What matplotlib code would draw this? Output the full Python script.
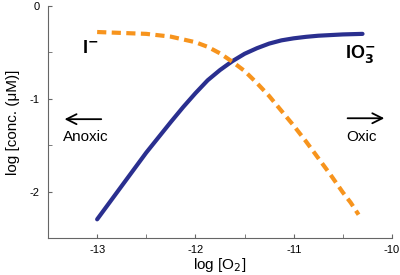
import matplotlib
matplotlib.use('Agg')
from matplotlib import pyplot as plt
from matplotlib.ticker import MultipleLocator

plt.rcParams['font.family'] = ['Liberation Sans', 'DejaVu Sans']

# log [O2] positions and values
iodate_x = [-13.0, -12.75, -12.5, -12.25, -12.125, -12.0, -11.875, -11.75, -11.625, -11.5,
            -11.375, -11.25, -11.125, -11.0, -10.875, -10.75, -10.5, -10.3]
iodate_y = [-2.30, -1.94, -1.58, -1.25, -1.09, -0.94, -0.80, -0.69, -0.595, -0.515,
            -0.455, -0.405, -0.37, -0.348, -0.332, -0.32, -0.306, -0.30]

iodide_x = [-13.0, -12.75, -12.5, -12.25, -12.125, -12.0, -11.875, -11.75, -11.625, -11.5,
            -11.375, -11.25, -11.125, -11.0, -10.875, -10.75, -10.625, -10.5, -10.42, -10.34]
iodide_y = [-0.28, -0.29, -0.30, -0.33, -0.36, -0.39, -0.44, -0.51, -0.60, -0.70,
            -0.83, -0.97, -1.13, -1.29, -1.46, -1.64, -1.82, -2.01, -2.12, -2.25]

x_ticks = [-13, -12, -11, -10]
y_ticks = [0, -1, -2]

fig = plt.figure(figsize=(4, 2.75), dpi=100)
ax = fig.add_axes([0.12, 0.135, 0.86, 0.843])

ax.plot(iodate_x, iodate_y, color='#2a2f8f', lw=3, solid_capstyle='round',
        solid_joinstyle='round')
ax.plot(iodide_x, iodide_y, color='#f7941d', lw=3, ls=(0, (2.2, 1.3)))

ax.set_xlim(-13.5, -10)
ax.set_ylim(-2.5, 0)
ax.set_xticks(x_ticks)
ax.set_yticks(y_ticks)
ax.set_xticklabels([str(t) for t in x_ticks])
ax.set_yticklabels([str(t) for t in y_ticks])
ax.xaxis.set_minor_locator(MultipleLocator(0.5))
ax.yaxis.set_minor_locator(MultipleLocator(0.5))
ax.tick_params(which='both', direction='in', color='#666666', labelsize=8, length=3)
ax.tick_params(axis='x', pad=5)
ax.tick_params(axis='y', pad=6)
for s in ['top', 'right']:
    ax.spines[s].set_visible(False)
for s in ['left', 'bottom']:
    ax.spines[s].set_color('#666666')

ax.set_xlabel('log [O$_2$]', fontsize=11, labelpad=1)
ax.set_ylabel('log [conc. (μM)]', fontsize=11, labelpad=7)

ax.text(-13.07, -0.46, 'I$^{\\mathbf{-}}$', fontsize=13, fontweight='bold', ha='center', va='center')
ax.text(-10.32, -0.52, 'IO$_\\mathbf{3}^{\\mathbf{-}}$', fontsize=13, fontweight='bold', ha='center', va='center')

ax.annotate('', xy=(-13.36, -1.22), xytext=(-12.93, -1.22),
            arrowprops=dict(arrowstyle='->', lw=1.3, color='black', mutation_scale=18))
ax.text(-13.12, -1.41, 'Anoxic', fontsize=11, ha='center', va='center')
ax.annotate('', xy=(-10.05, -1.21), xytext=(-10.48, -1.21),
            arrowprops=dict(arrowstyle='->', lw=1.3, color='black', mutation_scale=18))
ax.text(-10.31, -1.41, 'Oxic', fontsize=11, ha='center', va='center')

plt.savefig('out.png', dpi=100)
